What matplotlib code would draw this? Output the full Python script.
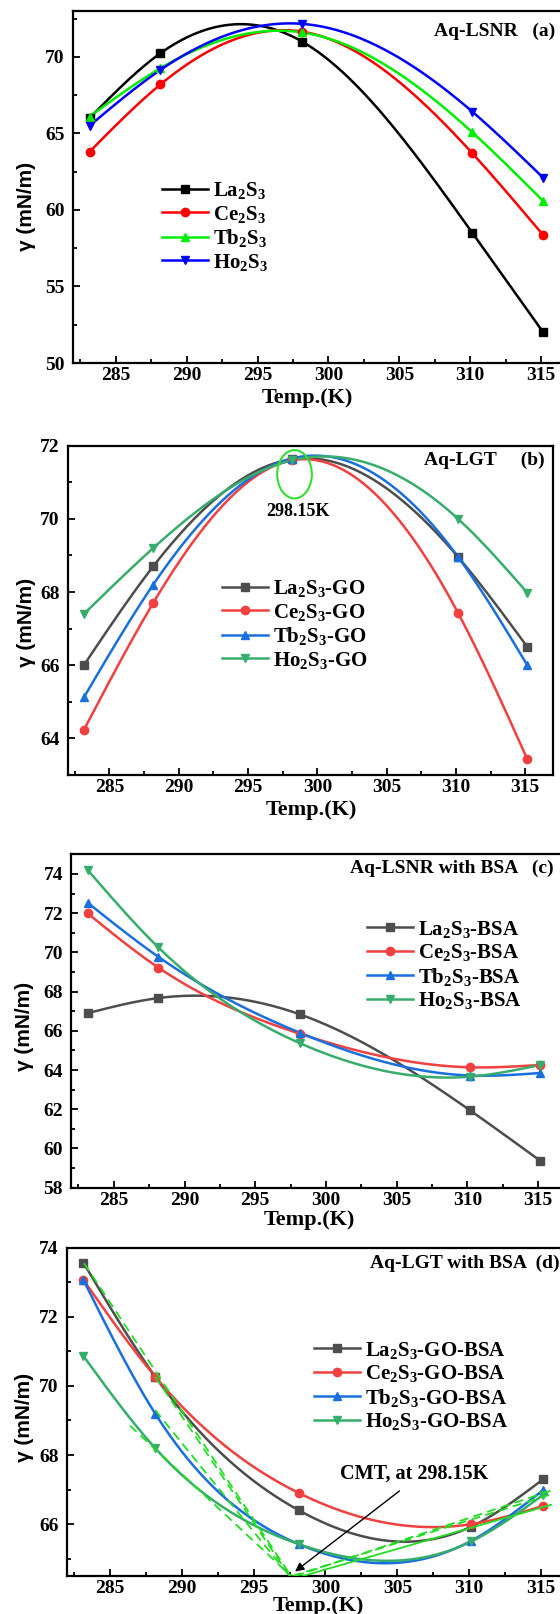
import numpy as np
import matplotlib
matplotlib.use('Agg')
import matplotlib.pyplot as plt
from matplotlib.patches import Ellipse
from matplotlib.ticker import MultipleLocator

plt.rcParams['font.family'] = ['Liberation Serif', 'DejaVu Serif']
plt.rcParams['font.weight'] = 'bold'
plt.rcParams['mathtext.fontset'] = 'custom'
plt.rcParams['mathtext.rm'] = 'Liberation Serif:bold'
plt.rcParams['mathtext.it'] = 'Liberation Serif:bold:italic'
plt.rcParams['mathtext.bf'] = 'Liberation Serif:bold'
plt.rcParams['mathtext.default'] = 'rm'

W, H = 560, 1614

temps = [283.15, 288.15, 298.15, 310.15, 315.15]
xticks = [285, 290, 295, 300, 305, 310, 315]

# (a) Aq-LSNR
a_la = [66.0, 70.24, 71.0, 58.5, 52.0]
a_ce = [63.8, 68.2, 71.65, 63.7, 58.35]
a_tb = [66.1, 69.26, 71.6, 65.07, 60.58]
a_ho = [65.5, 69.15, 72.16, 66.42, 62.1]

# (b) Aq-LGT
b_la = [66.0, 68.7, 71.63, 68.96, 66.5]
b_ce = [64.23, 67.7, 71.6, 67.43, 63.43]
b_tb = [65.12, 68.2, 71.65, 68.96, 66.0]
b_ho = [67.4, 69.2, 71.6, 70.0, 67.98]

# (c) Aq-LSNR with BSA
c_la = [66.9, 67.67, 66.84, 61.96, 59.37]
c_ce = [71.99, 69.22, 65.85, 64.14, 64.26]
c_tb = [72.53, 69.77, 65.9, 63.72, 63.85]
c_ho = [74.2, 70.25, 65.37, 63.66, 64.26]

# (d) Aq-LGT with BSA
d_la = [73.57, 70.27, 66.4, 65.93, 67.3]
d_ce = [73.07, 70.27, 66.9, 66.0, 66.53]
d_tb = [73.07, 69.2, 65.42, 65.52, 66.99]
d_ho = [70.87, 68.2, 65.42, 65.5, 66.85]

# tangent lines of panel (d): (x0, y0, x1, y1)
d_dashed = [(283.2, 73.55, 297.6, 64.5),
            (288.15, 70.27, 297.5, 64.5),
            (288.15, 69.3, 297.5, 64.5),
            (286.4, 68.85, 297.6, 64.5),
            (297.9, 64.5, 315.9, 67.0),
            (297.7, 64.5, 315.6, 66.85)]
d_solid = [(298.0, 64.45, 315.7, 66.56)]

black_set = ['#000000', '#ff0000', '#00ee00', '#0000ff']
origin_set = ['#4d4d4d', '#f14040', '#1a6fdf', '#37ad6b']
markers = ['s', 'o', '^', 'v']


def natural_spline(x, y, n=300):
    x = np.asarray(x, float)
    y = np.asarray(y, float)
    k = len(x)
    h = np.diff(x)
    A = np.zeros((k, k))
    r = np.zeros(k)
    A[0, 0] = 1
    A[-1, -1] = 1
    for i in range(1, k - 1):
        A[i, i - 1] = h[i - 1]
        A[i, i] = 2 * (h[i - 1] + h[i])
        A[i, i + 1] = h[i]
        r[i] = 6 * ((y[i + 1] - y[i]) / h[i] - (y[i] - y[i - 1]) / h[i - 1])
    M = np.linalg.solve(A, r)
    xs = np.linspace(x[0], x[-1], n)
    ys = np.empty_like(xs)
    for j, xv in enumerate(xs):
        i = min(np.searchsorted(x, xv, side='right') - 1, k - 2)
        t1 = x[i + 1] - xv
        t0 = xv - x[i]
        ys[j] = (M[i] * t1 ** 3 / (6 * h[i]) + M[i + 1] * t0 ** 3 / (6 * h[i])
                 + (y[i] / h[i] - M[i] * h[i] / 6) * t1
                 + (y[i + 1] / h[i] - M[i + 1] * h[i] / 6) * t0)
    return xs, ys


def px_rect(l, r, t, b):
    return [l / W, 1 - b / H, (r - l) / W, (b - t) / H]


fig = plt.figure(figsize=(W / 100, H / 100), dpi=100)

panels = [
    dict(rect=px_rect(73.2, 569.5, 11, 363), ylim=(50, 73), major=5, minor=2.5,
         series=[a_la, a_ce, a_tb, a_ho], colors=black_set,
         labels=[r'La$_2$S$_3$', r'Ce$_2$S$_3$', r'Tb$_2$S$_3$', r'Ho$_2$S$_3$'],
         leg=(0.1785, 0.388), title='Aq-LSNR   (a)', tpos=(0.971, 0.941),
         xlab=(307, 398), ylab=(27, 206)),
    dict(rect=px_rect(67.9, 553, 445.7, 775), ylim=(63, 72), major=2, minor=1,
         series=[b_la, b_ce, b_tb, b_ho], colors=origin_set,
         labels=[r'La$_2$S$_3$-GO', r'Ce$_2$S$_3$-GO', r'Tb$_2$S$_3$-GO', r'Ho$_2$S$_3$-GO'],
         leg=(0.318, 0.457), title='Aq-LGT     (b)', tpos=(0.9835, 0.9566),
         xlab=(311, 810), ylab=(27, 622)),
    dict(rect=px_rect(71.4, 566.5, 854.3, 1187.7), ylim=(58, 75), major=2, minor=1,
         series=[c_la, c_ce, c_tb, c_ho], colors=origin_set,
         labels=[r'La$_2$S$_3$-BSA', r'Ce$_2$S$_3$-BSA', r'Tb$_2$S$_3$-BSA', r'Ho$_2$S$_3$-BSA'],
         leg=(0.597, 0.668), title='Aq-LSNR with BSA   (c)', tpos=(0.974, 0.958),
         xlab=(309, 1220), ylab=(25, 1026)),
    dict(rect=px_rect(66.8, 569.8, 1247.7, 1576), ylim=(64.5, 74), major=2, minor=1,
         series=[d_la, d_ce, d_tb, d_ho], colors=origin_set,
         labels=[r'La$_2$S$_3$-GO-BSA', r'Ce$_2$S$_3$-GO-BSA', r'Tb$_2$S$_3$-GO-BSA', r'Ho$_2$S$_3$-GO-BSA'],
         leg=(0.492, 0.579), title='Aq-LGT with BSA  (d)', tpos=(0.9805, 0.9525),
         xlab=(318, 1606), ylab=(25, 1417)),
]

axes = []
for p in panels:
    ax = fig.add_axes(p['rect'])
    axes.append(ax)
    for ys, c, m, lab in zip(p['series'], p['colors'], markers, p['labels']):
        xs, ss = natural_spline(temps, ys)
        ax.plot(xs, ss, color=c, lw=1.8, zorder=3)
        ax.plot(temps, ys, ls='none', marker=m, ms=6, color=c, zorder=4)
        ax.plot([], [], color=c, lw=1.8, marker=m, ms=6, label=lab)
    ax.set_xlim(282, 317)
    ax.set_ylim(*p['ylim'])
    ax.set_xticks(xticks)
    ax.xaxis.set_minor_locator(MultipleLocator(2.5))
    ax.yaxis.set_major_locator(MultipleLocator(p['major']))
    ax.yaxis.set_minor_locator(MultipleLocator(p['minor']))
    ax.tick_params(which='both', direction='in', width=1.3, labelsize=14)
    ax.tick_params(axis='x', which='both', pad=3)
    ax.tick_params(axis='y', which='both', pad=6)
    ax.tick_params(which='major', length=5)
    ax.tick_params(which='minor', length=3)
    for s in ax.spines.values():
        s.set_linewidth(1.6)
    for t in ax.get_xticklabels() + ax.get_yticklabels():
        t.set_fontweight('bold')
    ax.legend(loc='center left', bbox_to_anchor=p['leg'], frameon=False,
              fontsize=15, handlelength=2.2, handletextpad=0.25,
              labelspacing=0.12, borderpad=0, borderaxespad=0)
    ax.text(p['tpos'][0], p['tpos'][1], p['title'], transform=ax.transAxes,
            ha='right', va='center', fontsize=14, fontweight='bold')
    fig.text(p['xlab'][0] / W, 1 - p['xlab'][1] / H, 'Temp.(K)', ha='center',
             va='center', fontsize=16, fontweight='bold')
    fig.text(p['ylab'][0] / W, 1 - p['ylab'][1] / H, 'γ (mN/m)', rotation=90,
             ha='center', va='center', fontsize=15, fontweight='bold',
             family=['Liberation Sans', 'DejaVu Sans'])

# panel (b) marker of the common point
axb = axes[1]
axb.add_patch(Ellipse((298.35, 71.22), 2.5, 1.32, fill=False, ec='#33dd33', lw=1.5, zorder=5))
axb.text(298.6, 70.19, '298.15K', ha='center', va='center', fontsize=13, fontweight='bold')

# panel (d) tangents and CMT arrow
axd = axes[3]
for x0, y0, x1, y1 in d_dashed:
    axd.plot([x0, x1], [y0, y1], color='#22dd22', lw=1.3, ls=(0, (5, 3)), zorder=5)
for x0, y0, x1, y1 in d_solid:
    axd.plot([x0, x1], [y0, y1], color='#22dd22', lw=1.3, zorder=5)
axd.annotate('', xy=(297.73, 64.58), xytext=(305.3, 67.01),
             arrowprops=dict(arrowstyle='-|>', color='k', lw=1.0, mutation_scale=13),
             zorder=6)
axd.text(306.2, 67.45, 'CMT, at 298.15K', ha='center', va='center',
         fontsize=14.5, fontweight='bold')

fig.savefig('out.png', dpi=100)
